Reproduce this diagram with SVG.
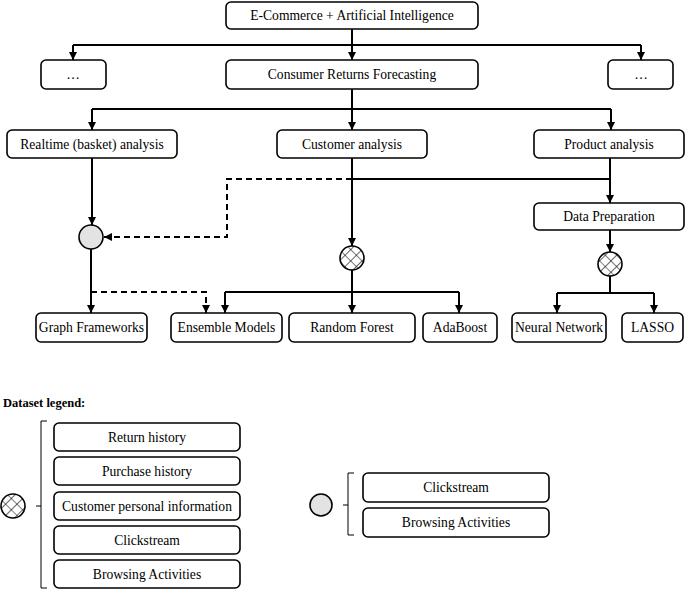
<svg xmlns="http://www.w3.org/2000/svg" width="685" height="589" viewBox="0 0 685 589">
<style>
.box{fill:#fff;stroke:#000;stroke-width:1.6}
text{font-family:'Liberation Serif','Times New Roman',Times,'DejaVu Serif',serif}
.t{font-size:13.6px;fill:#000;text-anchor:middle}
.c{fill:none;stroke:#000;stroke-width:2}
.d{fill:none;stroke:#000;stroke-width:2;stroke-dasharray:6,4}
.br{fill:none;stroke:#000;stroke-width:1}
.plain{fill:#e3e3e3;stroke:#000;stroke-width:1.6}
.hatch{fill:url(#xh);stroke:#000;stroke-width:1.6}
</style>
<defs>
<marker id="ah" viewBox="0 0 10 10" refX="10" refY="5" markerWidth="8" markerHeight="9" markerUnits="userSpaceOnUse" orient="auto">
<path d="M0,0 L10,5 L0,10 Z" fill="#000"/>
</marker>
<pattern id="xh" patternUnits="userSpaceOnUse" width="8" height="8" patternTransform="rotate(45)">
<rect width="8" height="8" fill="#fff"/>
<path d="M0,0 H8 M0,0 V8" stroke="#000" stroke-width="1.2"/>
</pattern>
</defs>

<g id="connectors">
<path class="c" d="M352,29 V45 M73,45 H641 M92,109 H611 M352,89 V109 M352,179 H610 M610,276 V293 M557,293 H654 M352,270 V292 M225,292 H459"/>
<path class="c" marker-end="url(#ah)" d="M73,45 V60"/>
<path class="c" marker-end="url(#ah)" d="M352,45 V60"/>
<path class="c" marker-end="url(#ah)" d="M641,45 V60"/>
<path class="c" marker-end="url(#ah)" d="M92,109 V130"/>
<path class="c" marker-end="url(#ah)" d="M352,109 V130"/>
<path class="c" marker-end="url(#ah)" d="M611,109 V130"/>
<path class="c" marker-end="url(#ah)" d="M92,158 V225"/>
<path class="c" marker-end="url(#ah)" d="M352,158 V246"/>
<path class="c" marker-end="url(#ah)" d="M610,158 V203"/>
<path class="d" marker-end="url(#ah)" d="M352,179 H227 V237 H104"/>
<path class="c" marker-end="url(#ah)" d="M91,249 V313"/>
<path class="d" marker-end="url(#ah)" d="M91,292 H206 V313"/>
<path class="c" marker-end="url(#ah)" d="M352,292 V313"/>
<path class="c" marker-end="url(#ah)" d="M225,292 V313"/>
<path class="c" marker-end="url(#ah)" d="M459,292 V313"/>
<path class="c" marker-end="url(#ah)" d="M610,230 V252"/>
<path class="c" marker-end="url(#ah)" d="M557,293 V313"/>
<path class="c" marker-end="url(#ah)" d="M654,293 V313"/>
</g>

<g id="n-ecai"><rect class="box" x="226" y="2" width="252" height="27" rx="5"/><text class="t" x="352" y="20">E-Commerce + Artificial Intelligence</text></g>
<g id="n-dots-left"><rect class="box" x="41" y="60" width="65" height="29" rx="5"/><text class="t" x="73" y="79">…</text></g>
<g id="n-crf"><rect class="box" x="226" y="60" width="252" height="29" rx="5"/><text class="t" x="352" y="79">Consumer Returns Forecasting</text></g>
<g id="n-dots-right"><rect class="box" x="608" y="60" width="65" height="29" rx="5"/><text class="t" x="641" y="79">…</text></g>

<g id="n-realtime"><rect class="box" x="7" y="130" width="170" height="28" rx="5"/><text class="t" x="92" y="148.5">Realtime (basket) analysis</text></g>
<g id="n-customer"><rect class="box" x="277" y="130" width="150" height="28" rx="5"/><text class="t" x="352" y="148.5">Customer analysis</text></g>
<g id="n-product"><rect class="box" x="534" y="130" width="150" height="28" rx="5"/><text class="t" x="609" y="148.5">Product analysis</text></g>
<g id="n-dataprep"><rect class="box" x="534" y="203" width="150" height="27" rx="5"/><text class="t" x="609" y="221">Data Preparation</text></g>

<g id="ds-plain-1"><circle class="plain" cx="91" cy="237" r="12"/></g>
<g id="ds-hatch-1"><circle class="hatch" cx="352" cy="258" r="12"/></g>
<g id="ds-hatch-2"><circle class="hatch" cx="610" cy="264" r="12"/></g>

<g id="n-graph"><rect class="box" x="36" y="313" width="111" height="29" rx="5"/><text class="t" x="91.5" y="332">Graph Frameworks</text></g>
<g id="n-ensemble"><rect class="box" x="171" y="313" width="111" height="29" rx="5"/><text class="t" x="226.5" y="332">Ensemble Models</text></g>
<g id="n-rf"><rect class="box" x="289" y="313" width="126" height="29" rx="5"/><text class="t" x="352" y="332">Random Forest</text></g>
<g id="n-ada"><rect class="box" x="423" y="313" width="74" height="29" rx="5"/><text class="t" x="460" y="332">AdaBoost</text></g>
<g id="n-nn"><rect class="box" x="512" y="313" width="94" height="29" rx="5"/><text class="t" x="559" y="332">Neural Network</text></g>
<g id="n-lasso"><rect class="box" x="622" y="313" width="61" height="29" rx="5"/><text class="t" x="652.5" y="332">LASSO</text></g>

<g id="legend">
<text x="3" y="407" font-size="12.5" font-weight="bold">Dataset legend:</text>
<circle class="hatch" cx="13" cy="506" r="12"/>
<path class="br" d="M47,421 H41 V588 H47 M36,506 H41"/>
<g id="lg-return"><rect class="box" x="54" y="423" width="186" height="28" rx="5"/><text class="t" x="147" y="441.5">Return history</text></g>
<g id="lg-purchase"><rect class="box" x="54" y="457" width="186" height="28" rx="5"/><text class="t" x="147" y="475.5">Purchase history</text></g>
<g id="lg-personal"><rect class="box" x="54" y="492" width="186" height="28" rx="5"/><text class="t" x="147" y="510.5">Customer personal information</text></g>
<g id="lg-click1"><rect class="box" x="54" y="526" width="186" height="28" rx="5"/><text class="t" x="147" y="544.5">Clickstream</text></g>
<g id="lg-browse1"><rect class="box" x="54" y="560" width="186" height="28" rx="5"/><text class="t" x="147" y="578.5">Browsing Activities</text></g>
<circle class="plain" cx="321" cy="505" r="11"/>
<path class="br" d="M354,473 H348 V535 H354 M343,505 H348"/>
<g id="lg-click2"><rect class="box" x="363" y="473" width="186" height="29" rx="5"/><text class="t" x="456" y="492">Clickstream</text></g>
<g id="lg-browse2"><rect class="box" x="363" y="508" width="186" height="29" rx="5"/><text class="t" x="456" y="527">Browsing Activities</text></g>
</g>
</svg>
